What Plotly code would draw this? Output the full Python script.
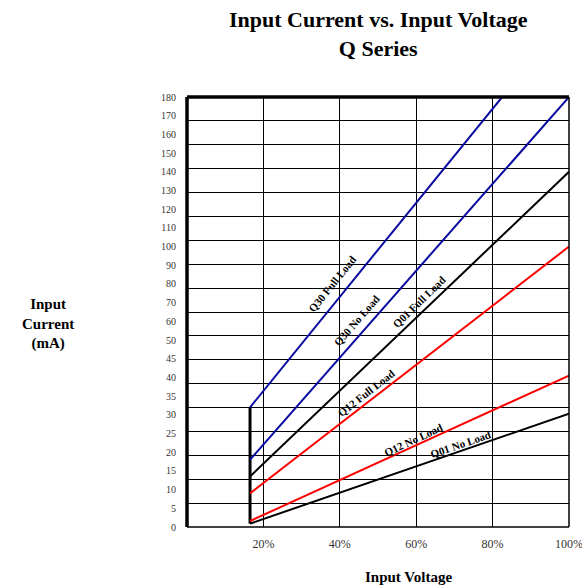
import plotly.graph_objects as go

# ---- data ----
series_names = ["Q30 Full Load", "Q30 No Load", "Q01 Full Load",
                "Q12 Full Load", "Q12 No Load", "Q01 No Load"]
series_colors = ["#0a0aa0", "#0a0aa0", "#000000", "#ff0000", "#ff0000", "#000000"]
x_start = [16.5, 16.5, 16.5, 16.5, 16.5, 16.5]          # % input voltage
x_end = [82.5, 100, 100, 100, 100, 100]
i_start = [32, 18, 13.5, 9, 1.6, 0.9]                    # mA
i_end = [180, 180, 140, 100, 40.5, 30.3]

y_tick_values = [0, 5, 10, 15, 20, 25, 30, 35, 40, 45, 50,
                 60, 70, 80, 90, 100, 110, 120, 130, 140, 150, 160, 170, 180]
x_tick_values = [20, 40, 60, 80, 100]
x_tick_labels = ["20%", "40%", "60%", "80%", "100%"]

# label placement (x %, current mA) and angle
label_x = [38.0, 44.5, 60.7, 46.9, 59.2, 71.7]
label_i = [80, 60.7, 70.3, 35.8, 23.2, 22.2]
label_angle = [-51, -49, -44, -38, -25, -19]


def to_axis(v):
    """Piecewise scale of the reference: 5 mA steps to 50, 10 mA steps above."""
    return v / 5 if v <= 50 else 10 + (v - 50) / 10


FONT = "Liberation Serif, Times New Roman, serif"

fig = go.Figure()

# vertical start line
fig.add_trace(go.Scatter(
    x=[min(x_start), min(x_start)],
    y=[to_axis(min(i_start)), to_axis(max(i_start))],
    mode="lines", line=dict(color="black", width=3), showlegend=False,
    hoverinfo="skip"))

for name, c, x0, x1, y0, y1 in zip(series_names, series_colors, x_start, x_end, i_start, i_end):
    fig.add_trace(go.Scatter(
        x=[x0, x1], y=[to_axis(y0), to_axis(y1)], mode="lines", name=name,
        line=dict(color=c, width=2), showlegend=False))

# dummy trace for secondary grid axis
fig.add_trace(go.Scatter(x=[0], y=[0], yaxis="y2", mode="markers",
                         marker=dict(opacity=0), showlegend=False, hoverinfo="skip"))

for name, lx, li, ang in zip(series_names, label_x, label_i, label_angle):
    fig.add_annotation(x=lx, y=to_axis(li), text="<b>" + name + "</b>",
                       textangle=ang, showarrow=False,
                       font=dict(family=FONT, size=11, color="black"))

# titles
fig.add_annotation(xref="paper", yref="paper", x=0.5, y=1.147, xanchor="center", yanchor="middle",
                   text="<b>Input Current vs. Input Voltage<br>Q Series</b>",
                   showarrow=False, font=dict(family=FONT, size=22, color="black"))
fig.add_annotation(xref="paper", yref="paper", x=-0.364, y=0.472, xanchor="center", yanchor="middle",
                   text="<b>Input<br>Current<br>(mA)</b>",
                   showarrow=False, font=dict(family=FONT, size=15, color="black"))
fig.add_annotation(xref="paper", yref="paper", x=0.579, y=-0.116, xanchor="center", yanchor="middle",
                   text="<b>Input Voltage</b>",
                   showarrow=False, font=dict(family=FONT, size=15, color="black"))

# borders
fig.add_shape(type="line", xref="paper", yref="paper", x0=0, x1=1, y0=1, y1=1,
              line=dict(color="black", width=3.5))
fig.add_shape(type="line", xref="paper", yref="paper", x0=0, x1=0, y0=0, y1=1,
              line=dict(color="black", width=3.5))
fig.add_shape(type="line", xref="paper", yref="paper", x0=1, x1=1, y0=0, y1=1,
              line=dict(color="black", width=1.5))
fig.add_shape(type="line", xref="paper", yref="paper", x0=0, x1=1, y0=0, y1=0,
              line=dict(color="black", width=1.5))

fig.update_layout(
    width=582, height=586,
    margin=dict(l=187, r=13, t=97, b=59, autoexpand=False),
    plot_bgcolor="white", paper_bgcolor="white",
    font=dict(family=FONT, color="black"),
    xaxis=dict(range=[0, 100], tickvals=x_tick_values, ticktext=x_tick_labels,
               showgrid=True, gridcolor="black", gridwidth=1.2, zeroline=False,
               showline=False, ticks="", tickfont=dict(family=FONT, size=12, color="#333"),
               ticklabelstandoff=8, ticklabeloverflow="allow", automargin=False,
               fixedrange=True),
    yaxis=dict(range=[0, 23], tickvals=list(range(len(y_tick_values))),
               ticktext=[str(v) for v in y_tick_values],
               showgrid=False, zeroline=False, showline=False, ticks="",
               tickfont=dict(family=FONT, size=10, color="#333"),
               ticklabelstandoff=10, automargin=False, fixedrange=True),
    yaxis2=dict(range=[0, 18], dtick=1, overlaying="y", side="right",
                showgrid=True, gridcolor="black", gridwidth=1.2, zeroline=False,
                showticklabels=False, ticks="", showline=False, automargin=False,
                fixedrange=True),
)

fig.write_html("out.html", config={"displayModeBar": False},
               post_script="document.body.style.margin='0';document.body.style.overflow='hidden';")
